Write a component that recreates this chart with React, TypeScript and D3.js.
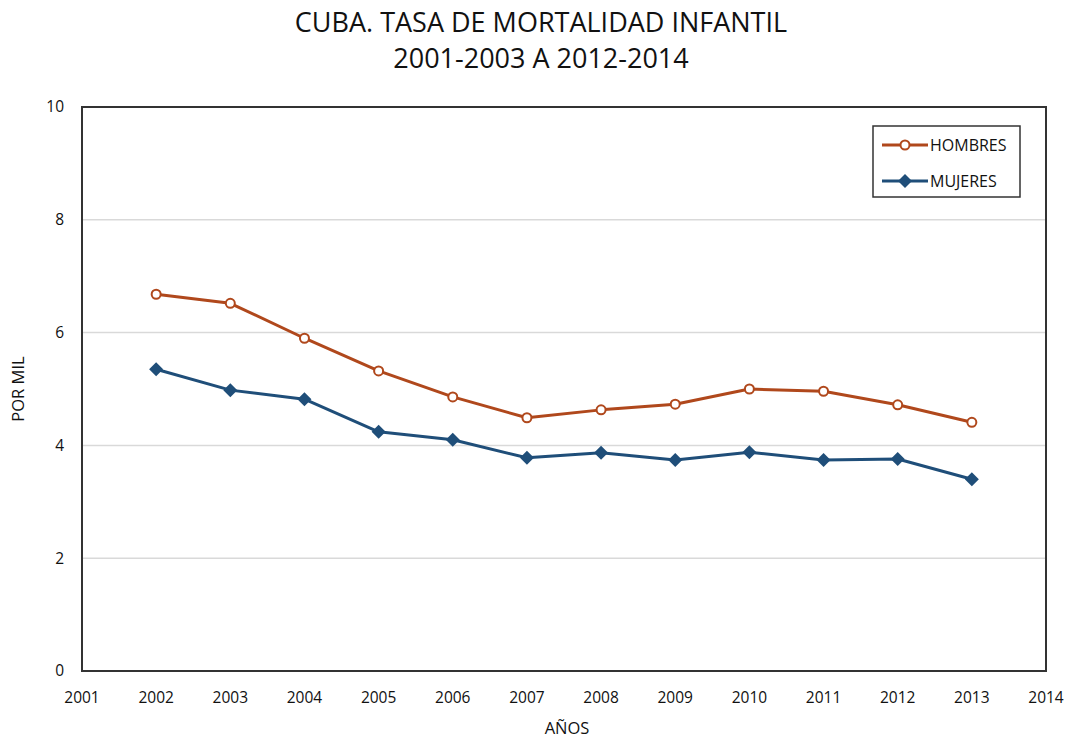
import React from 'react'
import * as d3 from 'd3'

const years = [2002, 2003, 2004, 2005, 2006, 2007, 2008, 2009, 2010, 2011, 2012, 2013]
const hombres = [6.68, 6.52, 5.9, 5.32, 4.86, 4.49, 4.63, 4.73, 5.0, 4.96, 4.72, 4.41]
const mujeres = [5.35, 4.98, 4.82, 4.24, 4.1, 3.78, 3.87, 3.74, 3.88, 3.74, 3.76, 3.4]
const xTicks = d3.range(2001, 2015)
const yTicks = [0, 2, 4, 6, 8, 10]

const width = 1069
const height = 740
const margin = { top: 107, right: 23, bottom: 69, left: 82 }
const font = "'Open Sans', sans-serif"
const textColor = '#111'
const cHombres = '#b0481c'
const cMujeres = '#1f4e79'

const App = () => {
  const x = d3
    .scaleLinear()
    .domain([2001, 2014])
    .range([margin.left, width - margin.right])
  const y = d3
    .scaleLinear()
    .domain([0, 10])
    .range([height - margin.bottom, margin.top])

  const line = d3
    .line<number>()
    .x((d, i) => x(years[i]))
    .y(d => y(d))

  // wide diamond like excel's marker
  const diamond = 'M0,-7L7,0L0,7L-7,0Z'

  return (
    <svg width={width} height={height} style={{ position: 'absolute', left: 0, top: 0, background: '#fff' }}>
      <rect width={width} height={height} fill="#fff" />
      <text x={541} y={32} textAnchor="middle" fontFamily={font} fontSize={27} fill={textColor}>
        CUBA. TASA DE MORTALIDAD INFANTIL
      </text>
      <text x={541} y={68} textAnchor="middle" fontFamily={font} fontSize={27} fill={textColor}>
        2001-2003 A 2012-2014
      </text>

      {/* gridlines */}
      {yTicks.slice(1, -1).map(t => (
        <line key={t} x1={x(2001)} x2={x(2014)} y1={y(t)} y2={y(t)} stroke="#d9d9d9" strokeWidth={1.5} />
      ))}
      <rect
        x={x(2001)}
        y={y(10)}
        width={x(2014) - x(2001)}
        height={y(0) - y(10)}
        fill="none"
        stroke="#333"
        strokeWidth={2}
      />

      {/* y ticks */}
      {yTicks.map(t => (
        <text key={t} x={x(2001) - 18} y={y(t)} dy="0.35em" textAnchor="end" fontFamily={font} fontSize={15.5} fill={textColor}>
          {t}
        </text>
      ))}
      {/* x ticks */}
      {xTicks.map(t => (
        <text key={t} x={x(t)} y={y(0) + 32} textAnchor="middle" fontFamily={font} fontSize={15.5} fill={textColor}>
          {t}
        </text>
      ))}
      <text x={x(2007.5) + 3} y={734} textAnchor="middle" fontFamily={font} fontSize={16.5} fill={textColor}>
        AÑOS
      </text>
      <text
        transform={`translate(24,${y(5)}) rotate(-90)`}
        textAnchor="middle"
        fontFamily={font}
        fontSize={16.5}
        fill={textColor}
      >
        POR MIL
      </text>

      {/* series */}
      <path d={line(hombres) ?? ''} fill="none" stroke={cHombres} strokeWidth={3} strokeLinejoin="round" />
      <path d={line(mujeres) ?? ''} fill="none" stroke={cMujeres} strokeWidth={3} strokeLinejoin="round" />
      {hombres.map((v, i) => (
        <circle key={i} cx={x(years[i])} cy={y(v)} r={4.5} fill="#fff" stroke={cHombres} strokeWidth={2} />
      ))}
      {mujeres.map((v, i) => (
        <path key={i} d={diamond} transform={`translate(${x(years[i])},${y(v)})`} fill={cMujeres} />
      ))}

      {/* legend */}
      <g>
        <rect x={873} y={126} width={147} height={71} fill="#fff" stroke="#333" strokeWidth={1.5} />
        <line x1={882} x2={928} y1={145} y2={145} stroke={cHombres} strokeWidth={3} />
        <circle cx={905} cy={145} r={4.5} fill="#fff" stroke={cHombres} strokeWidth={2} />
        <text x={930} y={145} dy="0.35em" fontFamily={font} fontSize={16} fill={textColor}>
          HOMBRES
        </text>
        <line x1={882} x2={928} y1={181} y2={181} stroke={cMujeres} strokeWidth={3} />
        <path d={diamond} transform="translate(905,181)" fill={cMujeres} />
        <text x={930} y={181} dy="0.35em" fontFamily={font} fontSize={16} fill={textColor}>
          MUJERES
        </text>
      </g>
    </svg>
  )
}

export default App
